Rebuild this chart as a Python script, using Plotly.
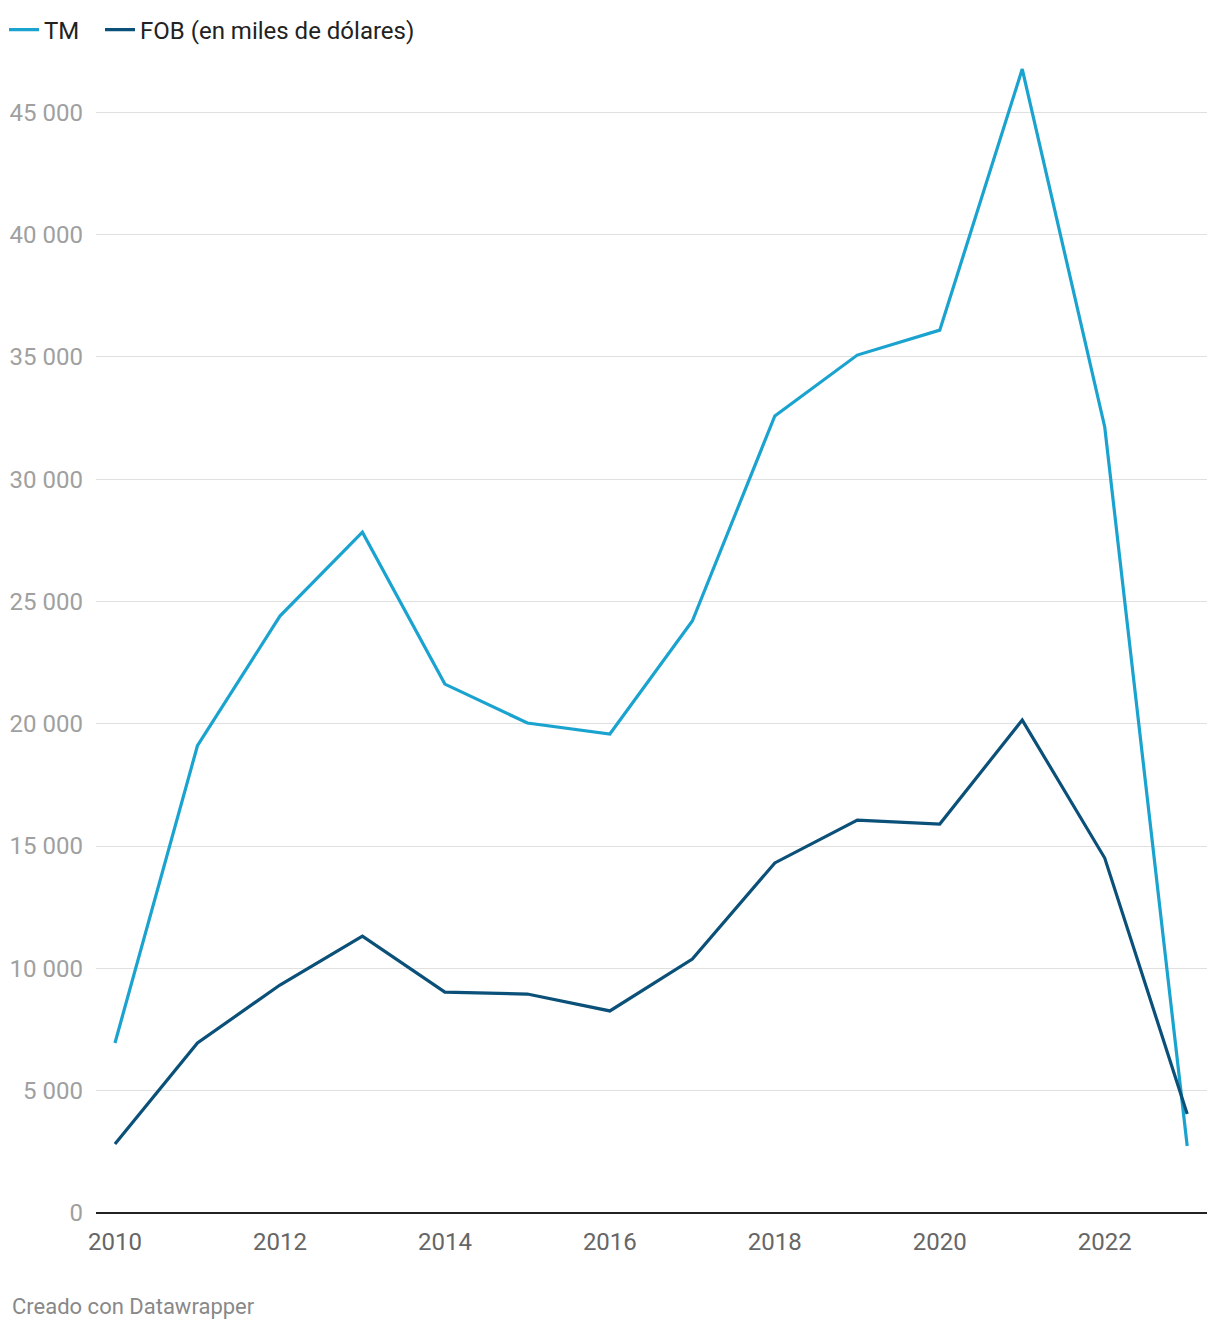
import plotly.graph_objects as go

years = list(range(2010, 2024))
tm = [6950, 19100, 24400, 27830, 21620, 20030, 19580, 24200, 32580, 35070, 36090, 46760, 32130, 2740]
fob = [2820, 6950, 9320, 11320, 9030, 8950, 8260, 10380, 14310, 16060, 15900, 20150, 14510, 4050]
x_ticks = [2010, 2012, 2014, 2016, 2018, 2020, 2022]
y_ticks = [0, 5000, 10000, 15000, 20000, 25000, 30000, 35000, 40000, 45000]

fig = go.Figure()
fig.add_trace(go.Scatter(x=years, y=tm, mode="lines", name="TM", legend="legend",
                         line=dict(color="#1ba3d0", width=3.2)))
fig.add_trace(go.Scatter(x=years, y=fob, mode="lines", name="FOB (en miles de dólares)",
                         legend="legend2",
                         line=dict(color="#0a5078", width=3.2)))

leg_common = dict(orientation="h", xref="paper", yref="paper",
                  xanchor="left", yanchor="middle",
                  font=dict(size=24, color="#222"), itemwidth=30,
                  bgcolor="rgba(0,0,0,0)")

fig.update_layout(
    width=1220, height=1330,
    margin=dict(l=96, r=13, t=51, b=117, autoexpand=False),
    paper_bgcolor="white", plot_bgcolor="white",
    font=dict(family="Roboto", size=20, color="#222"),
    separators=", ",
    showlegend=True,
    legend=dict(x=(4 - 96) / 1111, y=(1213 - 30) / 1162, **leg_common),
    legend2=dict(x=(100 - 96) / 1111, y=(1213 - 30) / 1162, **leg_common),
    xaxis=dict(range=[2009.77, 2023.24], tickvals=x_ticks, showgrid=False,
               zeroline=False, showline=False, ticks="",
               ticklabelstandoff=12,
               tickfont=dict(size=24, color="#666")),
    yaxis=dict(range=[0, 47500], tickvals=y_ticks, tickformat=",d",
               showgrid=True, gridcolor="#e0e0e0", gridwidth=1,
               zeroline=True, zerolinecolor="#222", zerolinewidth=2,
               showline=False, ticks="", ticklabelstandoff=12,
               tickfont=dict(size=24, color="#a0a0a0")),
)
fig.add_annotation(text="Creado con Datawrapper", xref="paper", yref="paper",
                   x=(10 - 96) / 1111, y=(1213 - 1306) / 1162,
                   xanchor="left", yanchor="middle",
                   showarrow=False, font=dict(size=22, color="#888"))

fig.write_html("out.html")
